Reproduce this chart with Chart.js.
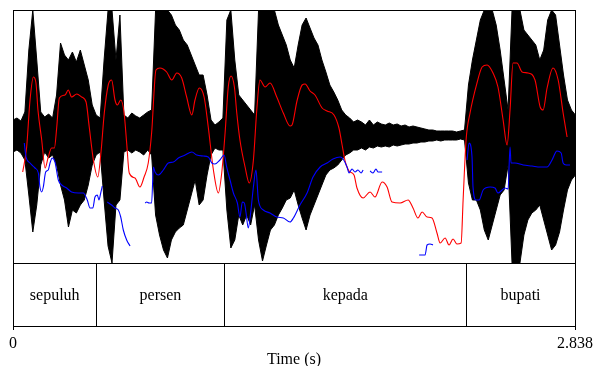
<!DOCTYPE html>
<html>
<head>
<meta charset="utf-8">
<script src="https://cdn.jsdelivr.net/npm/chart.js@4"></script>
<style>
body { margin: 0; background: #fff; }
#wrap { width: 594px; height: 366px; }
</style>
</head>
<body>
<div id="wrap"><canvas id="speech" width="594" height="366"></canvas></div>
<script>
// waveform envelope, one reading every 20 ms (amplitude units, panel spans -127..126)
const waveStep = 0.02;
const waveTop = [
  16, 18, 15, 24, 86, 126, 76, 24, 19, 22,
  18, 41, 93, 81, 76, 84, 74, 86, 71, 56,
  31, 21, 18, 76, 126, 126, 76, 121, 21, 18,
  23, 20, 18, 21, 24, 26, 126, 126, 126, 126,
  121, 111, 106, 96, 91, 81, 71, 61, 61, 41,
  16, 11, 14, 18, 116, 126, 76, 41, 36, 31,
  26, 21, 126, 126, 126, 126, 126, 111, 101, 91,
  76, 68, 91, 111, 118, 108, 98, 91, 76, 64,
  51, 44, 36, 26, 21, 18, 14, 16, 14, 11,
  16, 11, 14, 12, 11, 13, 11, 12, 10, 11,
  9, 10, 9, 8, 7, 6, 6, 5, 5, 5,
  5, 5, 4, 5, 6, 51, 76, 96, 116, 126,
  126, 126, 111, 86, 56, 26, 126, 126, 126, 106,
  101, 96, 91, 76, 86, 116, 126, 121, 91, 61,
  36, 26, 21
];
const waveBottom = [
  -16, -14, -17, -24, -59, -96, -69, -29, -16, -22,
  -19, -29, -49, -64, -91, -74, -77, -69, -64, -49,
  -29, -19, -16, -64, -110, -127, -69, -64, -16, -14,
  -17, -14, -16, -19, -14, -19, -79, -99, -114, -122,
  -104, -96, -92, -89, -74, -59, -44, -69, -64, -39,
  -19, -12, -14, -14, -74, -112, -104, -79, -89, -79,
  -89, -69, -104, -125, -109, -94, -89, -79, -72, -64,
  -62, -54, -69, -82, -94, -79, -69, -59, -49, -39,
  -34, -32, -29, -24, -19, -17, -14, -14, -12, -14,
  -11, -12, -10, -11, -10, -11, -9, -10, -9, -8,
  -8, -7, -7, -6, -6, -5, -5, -4, -5, -4,
  -4, -4, -4, -3, -4, -47, -64, -64, -74, -94,
  -104, -89, -74, -59, -54, -29, -127, -127, -127, -99,
  -84, -77, -74, -69, -84, -99, -114, -109, -96, -74,
  -54, -44, -39
];

// intensity contour (dB)
const intTimes = [
  0.049, 0.069, 0.086, 0.103, 0.116, 0.126, 0.145, 0.162, 0.178, 0.195,
  0.209, 0.221, 0.234, 0.263, 0.279, 0.296, 0.322, 0.347, 0.369, 0.385,
  0.406, 0.428, 0.444, 0.461, 0.481, 0.498, 0.515, 0.527, 0.544, 0.561,
  0.574, 0.587, 0.616, 0.641, 0.662, 0.683, 0.700, 0.722, 0.742, 0.776,
  0.802, 0.827, 0.852, 0.877, 0.903, 0.919, 0.941, 0.965, 0.986, 1.012,
  1.037, 1.054, 1.071, 1.087, 1.101, 1.118, 1.130, 1.146, 1.172, 1.193,
  1.214, 1.231, 1.247, 1.273, 1.298, 1.332, 1.365, 1.399, 1.409, 1.434,
  1.460, 1.475, 1.500, 1.525, 1.561, 1.586, 1.621, 1.646, 1.662, 1.677,
  1.697, 1.722, 1.737, 1.768, 1.803, 1.828, 1.864, 1.889, 1.914, 1.955,
  1.995, 2.020, 2.045, 2.066, 2.091, 2.116, 2.141, 2.157, 2.182, 2.202,
  2.222, 2.242, 2.263, 2.273, 2.288, 2.308, 2.343, 2.369, 2.394, 2.424,
  2.449, 2.475, 2.495, 2.510, 2.525, 2.545, 2.571, 2.601, 2.636, 2.662,
  2.677, 2.697, 2.727, 2.753, 2.778, 2.798
];
const intDb = [
  53.2, 58.2, 67.6, 72.2, 71.0, 65.6, 59.6, 54.0, 56.2, 58.0,
  58.0, 62.2, 68.0, 68.6, 69.6, 68.2, 68.8, 68.2, 67.2, 62.2,
  55.6, 52.2, 57.0, 65.0, 70.6, 71.6, 67.6, 66.6, 67.6, 65.0,
  59.0, 53.0, 52.0, 50.2, 52.2, 55.0, 61.0, 73.6, 74.0, 73.2,
  71.6, 73.0, 72.0, 68.2, 64.6, 67.6, 70.0, 68.2, 62.2, 53.6,
  49.0, 53.0, 61.0, 70.2, 72.4, 70.2, 65.0, 59.6, 54.2, 51.0,
  55.6, 65.6, 71.6, 70.2, 71.0, 68.2, 65.0, 62.4, 62.6, 67.4,
  70.6, 70.8, 69.4, 68.6, 66.0, 65.4, 64.6, 62.0, 58.6, 55.4,
  53.4, 52.6, 50.0, 48.0, 49.2, 48.2, 51.2, 50.2, 47.2, 47.0,
  47.6, 46.0, 44.0, 45.2, 44.2, 44.0, 41.0, 39.0, 40.0, 38.6,
  39.8, 38.8, 39.0, 47.6, 59.6, 65.0, 71.0, 74.2, 74.6, 73.0,
  70.2, 63.6, 58.6, 65.6, 75.0, 75.0, 73.2, 73.0, 71.6, 66.2,
  65.6, 70.0, 74.0, 71.6, 65.0, 60.2
];

// pitch contour (Hz), null = unvoiced gap
const pitchTimes = [
  0.057, 0.066, 0.086, 0.111, 0.128, 0.136, 0.145, 0.153, 0.165, 0.178, 0.187, 0.198, 0.212, 0.229,
  0.246, 0.271, 0.296, 0.330, 0.355, 0.375, 0.389, 0.403, 0.414, 0.426, 0.434, 0.443, 0.451,
  0.460,
  0.476, 0.498, 0.515, 0.532, 0.544, 0.557, 0.574, 0.591,
  0.630,
  0.667, 0.675, 0.687, 0.700, 0.709, 0.717, 0.734, 0.759, 0.784, 0.810, 0.835, 0.869, 0.903, 0.928,
  0.961, 0.986, 1.004, 1.020, 1.045, 1.066, 1.079, 1.096, 1.113, 1.133, 1.146, 1.158, 1.168, 1.177,
  1.188, 1.200, 1.214, 1.227, 1.239, 1.264, 1.298, 1.332, 1.365, 1.399, 1.416, 1.449, 1.485, 1.515,
  1.551, 1.586, 1.616, 1.652, 1.667, 1.687, 1.697, 1.712, 1.727, 1.742, 1.758, 1.768,
  1.785,
  1.803, 1.818, 1.833, 1.843, 1.864,
  1.950,
  2.051, 2.081, 2.091, 2.106, 2.121,
  2.200,
  2.293, 2.303, 2.318, 2.323, 2.338, 2.354, 2.374, 2.409, 2.434, 2.449, 2.470, 2.485, 2.500,
  2.510, 2.515, 2.535, 2.576, 2.621, 2.662, 2.697, 2.722, 2.747, 2.768, 2.778, 2.793, 2.813
];
const pitchHz = [
  170, 156, 150, 145, 140, 126, 121, 126, 141, 143, 150, 155, 151, 133,
  128, 125, 121, 120, 120, 113, 105, 105, 116, 118, 113, 120, 127,
  null,
  111, 108, 105, 103, 96, 83, 73, 67,
  null,
  110, 111, 110, 110, 146, 141, 138, 143, 150, 151, 155, 158, 161, 158,
  157, 156, 150, 149, 153, 158, 146, 133, 120, 110, 96, 111, 110, 100,
  85, 100, 126, 143, 113, 103, 100, 96, 95, 91, 95, 108, 120, 136,
  146, 150, 154, 156, 154, 146, 140, 144, 141, 143, 140, 143,
  null,
  142, 140, 144, 141, 141,
  null,
  58, 58, 68, 69, 68,
  null,
  153, 170, 156, 126, 113, 113, 123, 126, 125, 120, 123, 125, 124,
  166, 150, 150, 148, 147, 146, 146, 153, 162, 160, 150, 148, 148
];

// word tier
const tierBounds = [0, 0.421, 1.068, 2.288, 2.838];
const tierWords = ['sepuluh', 'persen', 'kepada', 'bupati'];
const xTicks = [0, 2.838];
const waveRange = [-127, 126];

const waveTimes = waveTop.map((v, i) => i * waveStep);
const toPoints = (xs, ys) => xs.map((x, i) => ({ x: x, y: ys[i] }));

const serif = 'Liberation Serif';

const textGrid = {
  id: 'textGrid',
  afterDatasetsDraw(chart) {
    const { ctx, chartArea: a, scales } = chart;
    const x = scales.x;
    const tierTop = Math.round(scales.yWave.getPixelForValue(waveRange[0])) + 0.5;
    const bottom = Math.round(a.bottom) + 0.5;
    ctx.save();
    ctx.strokeStyle = '#000';
    ctx.lineWidth = 1;
    ctx.strokeRect(Math.round(a.left) + 0.5, Math.round(a.top) + 0.5, Math.round(a.width), Math.round(a.height));
    ctx.beginPath();
    ctx.moveTo(a.left, tierTop);
    ctx.lineTo(a.right, tierTop);
    for (let i = 1; i < tierBounds.length - 1; i++) {
      const px = Math.round(x.getPixelForValue(tierBounds[i])) + 0.5;
      ctx.moveTo(px, tierTop);
      ctx.lineTo(px, bottom);
    }
    ctx.stroke();
    ctx.fillStyle = '#000';
    ctx.font = '16px "' + serif + '"';
    ctx.textAlign = 'center';
    ctx.textBaseline = 'middle';
    for (let i = 0; i < tierWords.length; i++) {
      const mid = (tierBounds[i] + tierBounds[i + 1]) / 2;
      ctx.fillText(tierWords[i], x.getPixelForValue(mid), (tierTop + bottom) / 2 + 1);
    }
    ctx.restore();
  }
};

new Chart(document.getElementById('speech'), {
  type: 'line',
  data: {
    datasets: [{
      label: 'envelope top',
      data: toPoints(waveTimes, waveTop),
      yAxisID: 'yWave',
      borderColor: '#000',
      backgroundColor: '#000',
      borderWidth: 1,
      pointRadius: 0,
      fill: '+1',
      order: 3
    }, {
      label: 'envelope bottom',
      data: toPoints(waveTimes, waveBottom),
      yAxisID: 'yWave',
      borderColor: '#000',
      borderWidth: 1,
      pointRadius: 0,
      fill: false,
      order: 3
    }, {
      label: 'Intensity',
      data: toPoints(intTimes, intDb),
      yAxisID: 'yInt',
      borderColor: '#ff0000',
      borderWidth: 1.1,
      pointRadius: 0,
      fill: false,
      cubicInterpolationMode: 'monotone',
      order: 2
    }, {
      label: 'Pitch',
      data: toPoints(pitchTimes, pitchHz),
      yAxisID: 'yPitch',
      borderColor: '#0000ff',
      borderWidth: 1.1,
      pointRadius: 0,
      fill: false,
      spanGaps: false,
      cubicInterpolationMode: 'monotone',
      order: 1
    }]
  },
  options: {
    responsive: false,
    animation: false,
    layout: { padding: { left: 13, right: 19, top: 10, bottom: 0 } },
    plugins: {
      legend: { display: false },
      tooltip: { enabled: false }
    },
    scales: {
      x: {
        type: 'linear',
        min: 0,
        max: 2.838,
        afterBuildTicks: axis => { axis.ticks = xTicks.map(v => ({ value: v })); },
        afterFit: s => {
          s.height = 40;
          s.paddingLeft = 0;
          s.paddingRight = 0;
        },
        ticks: {
          color: '#000',
          font: { family: serif, size: 16 },
          padding: 4,
          maxRotation: 0,
          autoSkip: false,
          callback: v => String(v)
        },
        grid: { drawOnChartArea: false, tickLength: 4, color: '#000' },
        border: { display: false },
        title: {
          display: true,
          text: 'Time (s)',
          color: '#000',
          font: { family: serif, size: 16, lineHeight: 0.8 },
          padding: { top: 0, bottom: 0 }
        }
      },
      yWave: { display: false, min: -190, max: waveRange[1] },
      yPitch: { display: false, min: -13, max: 303 },
      yInt: { display: false, min: 22.4, max: 85.6 }
    }
  },
  plugins: [textGrid]
});
</script>
</body>
</html>
